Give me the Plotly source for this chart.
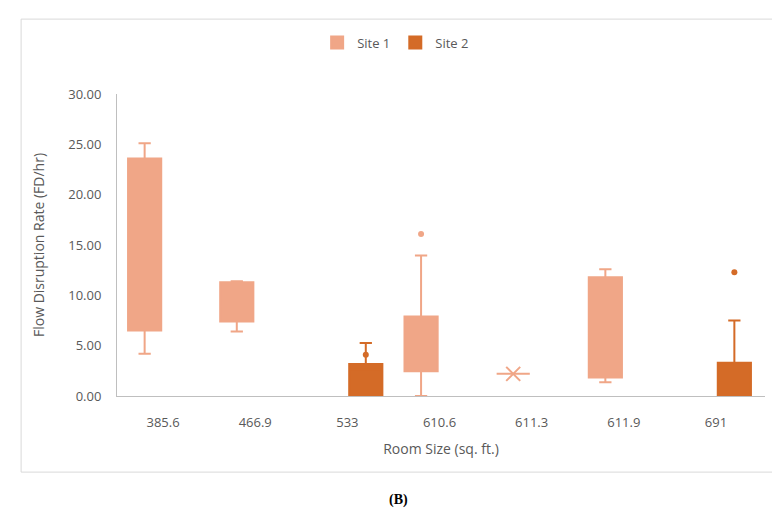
import plotly.graph_objects as go

categories = ["385.6", "466.9", "533", "610.6", "611.3", "611.9", "691"]

site1_x = ["385.6", "466.9", "610.6", "611.3", "611.9"]
site1_lower = [4.2, 6.4, 0.0, 2.2, 1.36]
site1_q1 = [6.5, 7.4, 2.45, 2.2, 1.85]
site1_median = [16.25, 8.9, 6.3, 2.2, 6.1]
site1_q3 = [23.6, 11.3, 7.9, 2.2, 11.8]
site1_upper = [25.1, 11.4, 13.95, 2.2, 12.6]

site2_x = ["533", "691"]
site2_lower = [0.0, 0.0]
site2_q1 = [0.0, 0.0]
site2_median = [2.6, 0.0]
site2_q3 = [3.18, 3.3]
site2_upper = [5.26, 7.5]

site1_out_x = ["610.6"]
site1_out_y = [16.1]
site1_mean_x = ["611.3"]
site1_mean_y = [2.2]
site2_out_x = ["533", "691"]
site2_out_y = [4.1, 12.3]

c1 = "#F0A687"
c2 = "#D46B27"
txt = "#595959"
font_family = "Open Sans, Liberation Sans, sans-serif"

fig = go.Figure()
fig.add_trace(go.Box(
    name="Site 1", x=site1_x, q1=site1_q1, median=site1_median, q3=site1_q3,
    lowerfence=site1_lower, upperfence=site1_upper,
    fillcolor=c1, line=dict(color=c1, width=2), whiskerwidth=0.37,
    offsetgroup="s1", boxpoints=False,
))
fig.add_trace(go.Box(
    name="Site 2", x=site2_x, q1=site2_q1, median=site2_median, q3=site2_q3,
    lowerfence=site2_lower, upperfence=site2_upper,
    fillcolor=c2, line=dict(color=c2, width=2), whiskerwidth=0.37,
    offsetgroup="s2", boxpoints=False,
))
# outliers / mean markers
fig.add_trace(go.Box(
    name="Site 1", x=site1_out_x, y=site1_out_y, offsetgroup="s1",
    boxpoints="all", jitter=0, pointpos=0, fillcolor="rgba(0,0,0,0)",
    line=dict(color="rgba(0,0,0,0)", width=0), marker=dict(color=c1, size=6),
    showlegend=False, hoverinfo="y",
))
fig.add_trace(go.Box(
    name="Site 2", x=site2_out_x, y=site2_out_y, offsetgroup="s2",
    boxpoints="all", jitter=0, pointpos=0, fillcolor="rgba(0,0,0,0)",
    line=dict(color="rgba(0,0,0,0)", width=0), marker=dict(color=c2, size=6),
    showlegend=False, hoverinfo="y",
))
fig.add_trace(go.Box(
    name="Site 1", x=site1_mean_x, y=site1_mean_y, offsetgroup="s1",
    boxpoints="all", jitter=0, pointpos=0, fillcolor="rgba(0,0,0,0)",
    line=dict(color="rgba(0,0,0,0)", width=0),
    marker=dict(color=c1, size=14, symbol="x-thin-open", line=dict(color=c1, width=2)),
    showlegend=False, hoverinfo="y",
))

fig.update_layout(
    width=780, height=515,
    margin=dict(l=109, r=23, t=86, b=127),
    paper_bgcolor="white", plot_bgcolor="white",
    boxmode="group", boxgap=0.2, boxgroupgap=0.1,
    font=dict(family=font_family, color=txt, size=13),
    legend=dict(orientation="h", x=0.43, xanchor="center", y=1.17, yanchor="middle",
                font=dict(size=13, color=txt), traceorder="normal", itemwidth=30),
    xaxis=dict(
        type="category", categoryorder="array", categoryarray=categories,
        showline=True, linecolor="#BFBFBF", linewidth=1, showgrid=False, zeroline=False,
        ticks="", tickfont=dict(size=13, color=txt), ticklabelstandoff=14,
        title=dict(text="Room Size (sq. ft.)", font=dict(size=14, color=txt), standoff=14),
    ),
    yaxis=dict(
        range=[0, 30], tickvals=[0, 5, 10, 15, 20, 25, 30], tickformat=".2f",
        showline=True, linecolor="#BFBFBF", linewidth=1, showgrid=False, zeroline=False,
        ticks="", tickfont=dict(size=13, color=txt), ticklabelstandoff=12,
        title=dict(text="Flow Disruption Rate (FD/hr)", font=dict(size=14, color=txt), standoff=20),
    ),
    shapes=[dict(type="rect", xref="paper", yref="paper",
                 x0=-0.148, x1=1.017, y0=-0.252, y1=1.248,
                 line=dict(color="#D9D9D9", width=1), fillcolor="rgba(0,0,0,0)", layer="below")],
    annotations=[dict(text="<b>(B)</b>", xref="paper", yref="paper", x=0.434, y=-0.377,
                      showarrow=False, font=dict(family="Liberation Serif, serif", size=14, color="black"))],
)

fig.write_html("out.html")
